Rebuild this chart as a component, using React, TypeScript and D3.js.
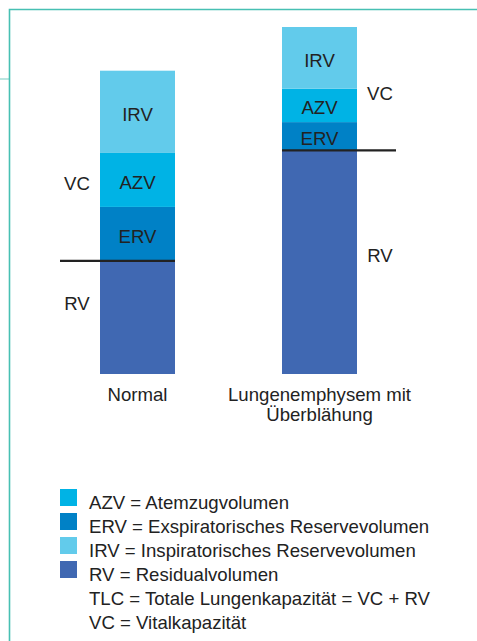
import React from 'react';
import * as d3 from 'd3';

// Lungenvolumina (Liter, abgeschätzt)
const categories = ['Normal', 'Emphysem'];
const categoryLabels = [['Normal'], ['Lungenemphysem mit', 'Überblähung']];
const segmentKeys = ['RV', 'ERV', 'AZV', 'IRV'];
const rvValues = [2.2, 4.35];
const ervValues = [1.05, 0.55];
const azvValues = [1.05, 0.65];
const irvValues = [1.6, 1.2];

const legendKeys = ['AZV', 'ERV', 'IRV', 'RV'];
const legendTexts = [
  'AZV = Atemzugvolumen',
  'ERV = Exspiratorisches Reservevolumen',
  'IRV = Inspiratorisches Reservevolumen',
  'RV = Residualvolumen',
  'TLC = Totale Lungenkapazität = VC + RV',
  'VC = Vitalkapazität',
];

const colors: Record<string, string> = {
  AZV: '#00b3e5',
  ERV: '#0081c6',
  IRV: '#62cbeb',
  RV: '#4068b2',
};

// per bar: side of VC/RV labels and where along the segment they sit
const sideLayout = [
  { side: -1, vcFrac: 0.44, rvFrac: 0.62 },
  { side: 1, vcFrac: 0.85, rvFrac: 0.53 },
];

const W = 477;
const H = 641;
const barWidth = 75;
const font = '"Liberation Sans", Arial, sans-serif';
const textColor = '#222';

const App = () => {
  const rows = categories.map((c, i) => ({
    cat: c,
    RV: rvValues[i],
    ERV: ervValues[i],
    AZV: azvValues[i],
    IRV: irvValues[i],
  }));
  const series = d3.stack<any>().keys(segmentKeys)(rows);
  const maxTotal = d3.max(rows, (r) => r.RV + r.ERV + r.AZV + r.IRV) as number;

  const x = d3.scalePoint().domain(categories).range([46.5, 410.5]).padding(0.5);
  const y = d3.scaleLinear().domain([0, maxTotal]).range([374, 27]);

  const seg = (key: string, i: number) => series.find((d) => d.key === key)![i];

  return (
    <svg
      width={W}
      height={H}
      style={{ position: 'absolute', left: 0, top: 0, background: '#fff' }}
      fontFamily={font}
      fontSize={18.6}
    >
      {/* frame */}
      <line x1={0} x2={9} y1={79} y2={79} stroke="#a3ddd6" strokeWidth={1.5} />
      <path d={`M9.5,${H}V9.5H${W}`} fill="none" stroke="#47c0b3" strokeWidth={1.6} />

      {/* bars */}
      {series.map((s) =>
        s.map((d, i) => (
          <rect
            key={s.key + i}
            x={(x(categories[i]) as number) - barWidth / 2}
            y={y(d[1])}
            width={barWidth}
            height={y(d[0]) - y(d[1])}
            fill={colors[s.key]}
          />
        ))
      )}

      {/* segment labels inside bars */}
      {categories.map((c, i) =>
        ['ERV', 'AZV', 'IRV'].map((k) => {
          const d = seg(k, i);
          return (
            <text
              key={c + k}
              x={x(c) as number}
              y={(y(d[0]) + y(d[1])) / 2 + 9}
              textAnchor="middle"
              fill={textColor}
            >
              {k}
            </text>
          );
        })
      )}

      {/* RV / VC separator lines and side labels */}
      {categories.map((c, i) => {
        const cx = x(c) as number;
        const lay = sideLayout[i];
        const rv = seg('RV', i);
        const azv = seg('AZV', i);
        const ly = y(rv[1]);
        const x0 = lay.side < 0 ? cx - barWidth / 2 - 40 : cx - barWidth / 2;
        const x1 = lay.side < 0 ? cx + barWidth / 2 : cx + barWidth / 2 + 39;
        const lx = cx + lay.side * (barWidth / 2 + 23);
        const vcVal = azv[0] + (azv[1] - azv[0]) * lay.vcFrac;
        const rvVal = rv[0] + (rv[1] - rv[0]) * lay.rvFrac;
        return (
          <g key={'sep' + c}>
            <line x1={x0} x2={x1} y1={ly} y2={ly} stroke={textColor} strokeWidth={2.4} />
            <text x={lx} y={y(vcVal) + 6.5} textAnchor="middle" fill={textColor}>VC</text>
            <text x={lx} y={y(rvVal) + 6.5} textAnchor="middle" fill={textColor}>RV</text>
          </g>
        );
      })}

      {/* category labels */}
      {categories.map((c, i) => (
        <text key={'cl' + c} x={x(c) as number} y={401} textAnchor="middle" fill={textColor}>
          {categoryLabels[i].map((t, j) => (
            <tspan key={j} x={x(c) as number} dy={j === 0 ? 0 : 20}>
              {t}
            </tspan>
          ))}
        </text>
      ))}

      {/* legend */}
      <g transform="translate(60, 509)">
        {legendKeys.map((k, i) => (
          <rect key={k} x={0} y={i * 24 - 20} width={17} height={17} fill={colors[k]} />
        ))}
        {legendTexts.map((t, i) => (
          <text key={t} x={29} y={i * 24} fill={textColor}>
            {t}
          </text>
        ))}
      </g>
    </svg>
  );
};

export default App;
